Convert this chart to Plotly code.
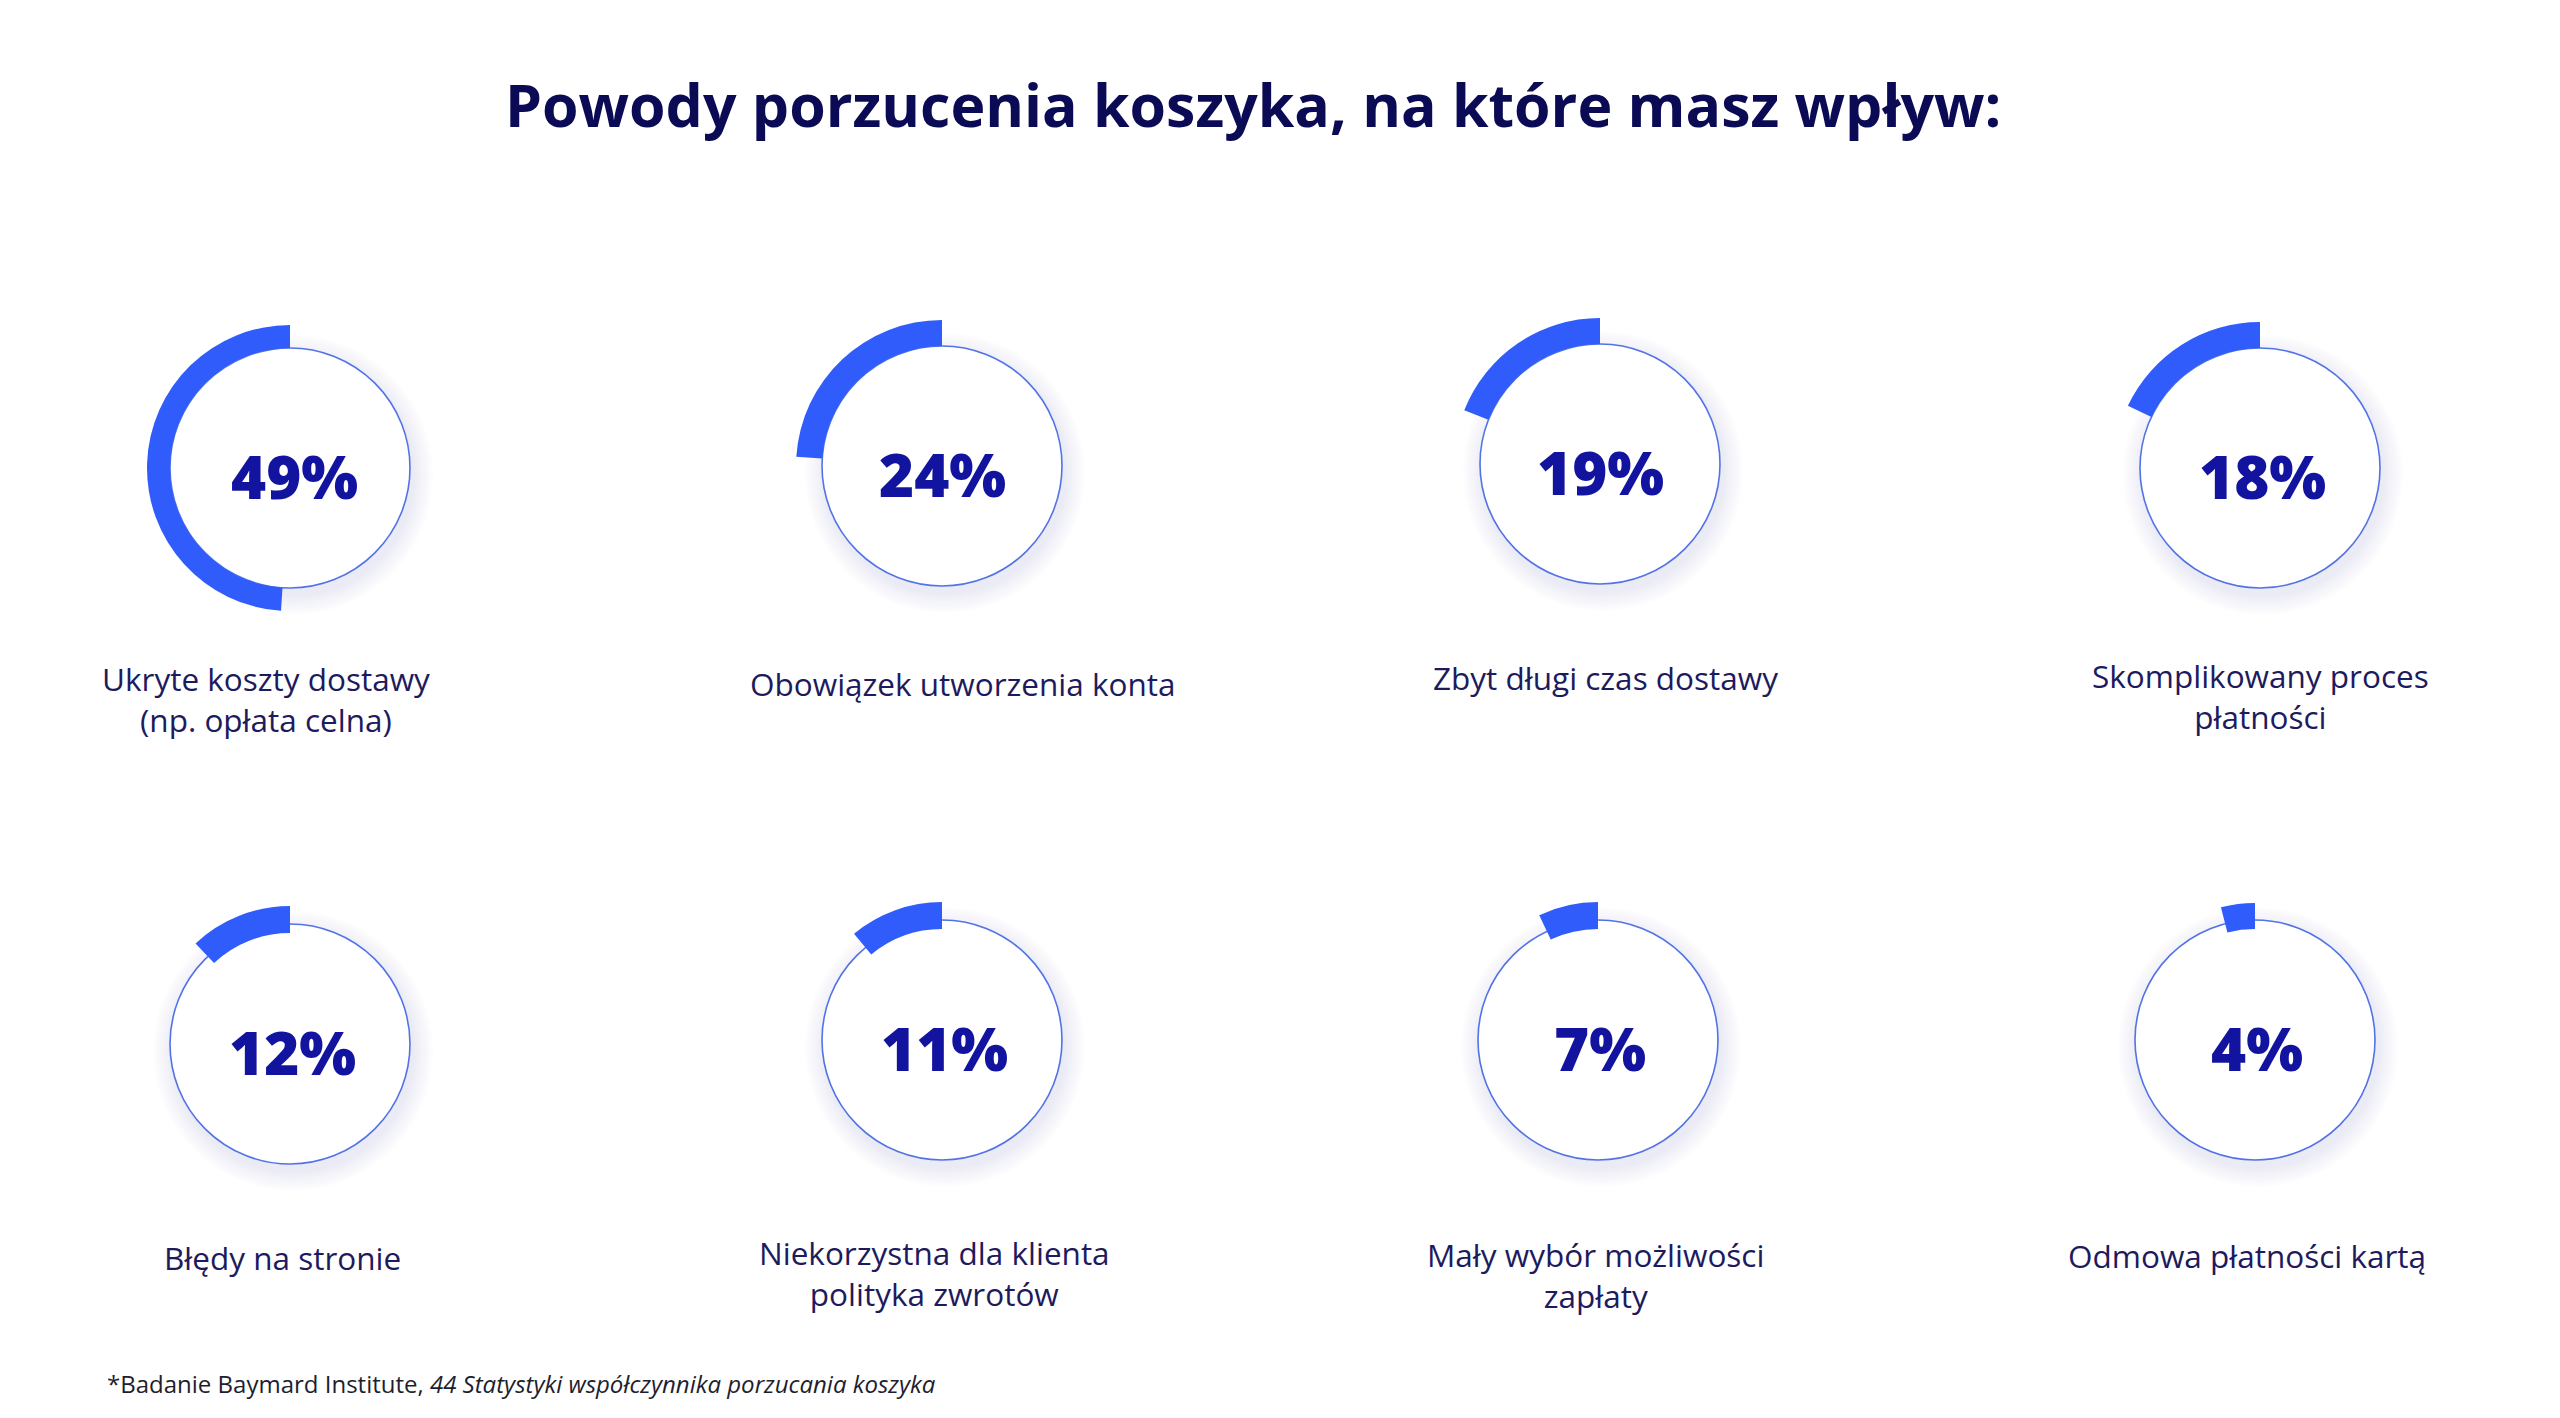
import plotly.graph_objects as go

# ---------------- data ----------------
percentages = [49, 24, 19, 18, 12, 11, 7, 4]
reasons = [
    "Ukryte koszty dostawy\n(np. opłata celna)",
    "Obowiązek utworzenia konta",
    "Zbyt długi czas dostawy",
    "Skomplikowany proces\npłatności",
    "Błędy na stronie",
    "Niekorzystna dla klienta\npolityka zwrotów",
    "Mały wybór możliwości\nzapłaty",
    "Odmowa płatności kartą",
]
title_text = "Powody porzucenia koszyka, na które masz wpływ:"
footnote_regular = "*Badanie Baymard Institute, "
footnote_italic = "44 Statystyki współczynnika porzucania koszyka"

# ---------------- layout constants (pixels) ----------------
W, H = 2560, 1418
OFF = 8  # page body margin
centers_x = [290, 942, 1600, 2260, 290, 942, 1598, 2255]
centers_y = [468, 466, 464, 468, 1044, 1040, 1040, 1040]
pct_x = [294, 942, 1600, 2262, 292, 944, 1600, 2257]
label_x = [266, 963, 1605, 2260, 282, 934, 1595, 2247]
label_y = [681, 684, 678, 678, 1257, 1255, 1257, 1255]
line_gap = 36
circle_r = 120
arc_outer = [143, 146, 146, 146, 138, 138, 138, 137]
arc_inner = [120, 120, 120, 120, 111, 111, 111, 111]

ARC = "#2f5cfb"
RING = "#5273e6"
PCT = "#1214a0"
NAVY = "#0b0a55"
LABEL = "#1d1b5e"
FONT = "Open Sans"


def px(x):
    return (x - OFF) / W


def py(y):
    return 1 - (y - OFF) / H


fig = go.Figure()
shapes = []
annotations = []

for i, v in enumerate(percentages):
    cx, cy = centers_x[i], centers_y[i]
    # soft shadow glow
    for k in range(10, 0, -1):
        rr = circle_r + 2 * k
        sx, sy = cx + 3, cy + 7
        shapes.append(dict(type="circle", xref="paper", yref="paper",
                           x0=px(sx - rr), x1=px(sx + rr),
                           y0=py(sy + rr), y1=py(sy - rr),
                           fillcolor="rgba(110,110,200,0.014)",
                           line=dict(width=0), layer="below"))
    # thin ring with white fill
    shapes.append(dict(type="circle", xref="paper", yref="paper",
                       x0=px(cx - circle_r), x1=px(cx + circle_r),
                       y0=py(cy + circle_r), y1=py(cy - circle_r),
                       fillcolor="white",
                       line=dict(color=RING, width=1.6), layer="below"))
    # progress arc: transparent remainder first (clockwise from 12 o'clock),
    # so the coloured share ends at 12 o'clock on the left side
    R = arc_outer[i]
    fig.add_trace(go.Pie(
        values=[100 - v, v],
        marker=dict(colors=["rgba(0,0,0,0)", ARC], line=dict(width=0)),
        hole=arc_inner[i] / R,
        sort=False, direction="clockwise", rotation=0,
        textinfo="none", hoverinfo="skip", showlegend=False,
        domain=dict(x=[px(cx - R), px(cx + R)], y=[py(cy + R), py(cy - R)]),
    ))
    # percentage text
    annotations.append(dict(
        x=px(pct_x[i]), y=py(cy + 8), xref="paper", yref="paper",
        text=f"{v}%", showarrow=False, xanchor="center", yanchor="middle",
        font=dict(family=FONT, size=60, color=PCT, weight=800)))
    # label (single block, lines joined with <br>)
    lines = reasons[i].split("\n")
    ymid = label_y[i] + line_gap * (len(lines) - 1) / 2
    annotations.append(dict(
        x=px(label_x[i]), y=py(ymid), xref="paper", yref="paper",
        text="<br>".join(lines), showarrow=False, xanchor="center",
        yanchor="middle", align="center",
        font=dict(family=FONT, size=31.5, color=LABEL)))

# title
annotations.append(dict(
    x=px(1253), y=py(104), xref="paper", yref="paper",
    text=title_text, showarrow=False, xanchor="center", yanchor="middle",
    font=dict(family=FONT, size=59, color=NAVY, weight=700)))

# footnote
annotations.append(dict(
    x=px(105), y=py(1383), xref="paper", yref="paper",
    text=footnote_regular + "<i>" + footnote_italic + "</i>",
    showarrow=False, xanchor="left", yanchor="middle",
    font=dict(family=FONT, size=24, color="#1e1e2e")))

fig.update_layout(
    width=W, height=H, autosize=False,
    margin=dict(l=0, r=0, t=0, b=0),
    paper_bgcolor="white", plot_bgcolor="white",
    shapes=shapes, annotations=annotations,
    xaxis=dict(visible=False), yaxis=dict(visible=False),
)

fig.write_html("out.html")
